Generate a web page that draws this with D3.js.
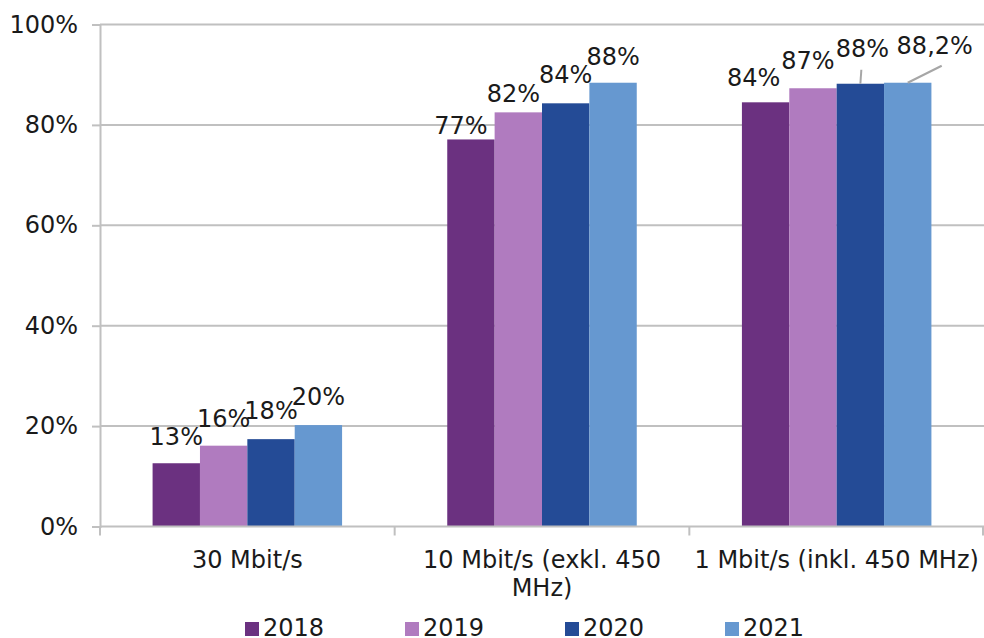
<!DOCTYPE html>
<html><head><meta charset="utf-8">
<script src="https://cdn.jsdelivr.net/npm/d3@7"></script>
<style>
body{margin:0;background:#fff;}
svg{display:block;font-family:"DejaVu Sans",sans-serif;}
</style></head>
<body><svg id="c" width="984" height="638"></svg>
<script>
const categories = ["30 Mbit/s", "10 Mbit/s (exkl. 450 MHz)", "1 Mbit/s (inkl. 450 MHz)"];
const categoryLines = [["30 Mbit/s"], ["10 Mbit/s (exkl. 450", "MHz)"], ["1 Mbit/s (inkl. 450 MHz)"]];
const series = ["2018", "2019", "2020", "2021"];
const values2018 = [12.6, 77.1, 84.5];
const values2019 = [16.1, 82.5, 87.3];
const values2020 = [17.4, 84.3, 88.2];
const values2021 = [20.2, 88.4, 88.4];
const labels2018 = ["13%", "77%", "84%"];
const labels2019 = ["16%", "82%", "87%"];
const labels2020 = ["18%", "84%", "88%"];
const labels2021 = ["20%", "88%", "88,2%"];
const yTicks = [0, 20, 40, 60, 80, 100];
const colors = ["#6b3180", "#b07bbf", "#244b96", "#6698d0"];

// manual label nudges (layout only): [series][category] -> dx, gap above bar
const labelDx = [[0, -10, -12], [0, -5, -5], [0, 0, 2], [0, 0, 27]];
const labelGap = [[18, 5, 16], [19, 10, 19], [20, 20, 27], [20, 18, 29]];
const leader = [[false,false,false],[false,false,false],[false,false,true],[false,false,true]];

const allValues = [values2018, values2019, values2020, values2021];
const allLabels = [labels2018, labels2019, labels2020, labels2021];

const svg = d3.select("#c");
const left = 100, right = 984, y0 = 526.5, y1 = 24.5;
const x = d3.scaleBand().domain(categories).range([left, right]).paddingInner(0).paddingOuter(0);
const xs = d3.scaleBand().domain(series).range([0, x.bandwidth()]).paddingInner(0).paddingOuter(1.11);
const y = d3.scaleLinear().domain([0, 100]).range([y0, y1]);
const grid = "#c0c0c0";
const txt = "#1a1a1a";
const FS = 24;

// gridlines
svg.append("g").selectAll("line").data(yTicks.filter(d => d > 0)).join("line")
  .attr("x1", left).attr("x2", right).attr("y1", d => y(d)).attr("y2", d => y(d))
  .attr("stroke", grid).attr("stroke-width", 2);

// y axis
const ya = svg.append("g").attr("transform", `translate(${left},0)`)
  .call(d3.axisLeft(y).tickValues(yTicks).tickSize(8).tickPadding(14).tickFormat(d => d + "%"));
ya.select(".domain").attr("stroke", grid).attr("stroke-width", 2);
ya.selectAll(".tick line").attr("stroke", grid).attr("stroke-width", 2);
ya.selectAll(".tick text").attr("font-size", FS).attr("fill", txt).attr("font-family", "DejaVu Sans, sans-serif");

// bars
series.forEach((s, si) => {
  svg.append("g").selectAll("rect").data(categories).join("rect")
    .attr("x", (c) => x(c) + xs(s))
    .attr("width", xs.bandwidth())
    .attr("y", (c, ci) => y(allValues[si][ci]))
    .attr("height", (c, ci) => y(0) - y(allValues[si][ci]))
    .attr("fill", colors[si]);
});

// x axis
const xa = svg.append("g").attr("transform", `translate(0,${y0})`);
xa.append("line").attr("x1", left).attr("x2", right).attr("stroke", grid).attr("stroke-width", 2);
const bounds = categories.map(c => x(c)).concat([right - 1]);
xa.selectAll(".t").data(bounds).join("line").attr("class", "t")
  .attr("x1", d => d).attr("x2", d => d).attr("y1", 0).attr("y2", 9)
  .attr("stroke", grid).attr("stroke-width", 2);

categories.forEach((c, ci) => {
  const t = svg.append("text").attr("text-anchor", "middle").attr("font-size", FS).attr("fill", txt)
    .attr("x", x(c) + x.bandwidth() / 2).attr("y", 568);
  categoryLines[ci].forEach((ln, li) => {
    t.append("tspan").attr("x", x(c) + x.bandwidth() / 2).attr("dy", li === 0 ? 0 : 28).text(ln);
  });
});

// data labels
series.forEach((s, si) => {
  categories.forEach((c, ci) => {
    const cx = x(c) + xs(s) + xs.bandwidth() / 2;
    const top = y(allValues[si][ci]);
    const lx = cx + labelDx[si][ci];
    const ly = top - labelGap[si][ci];
    if (leader[si][ci]) {
      svg.append("line").attr("x1", cx).attr("y1", top)
        .attr("x2", si === 3 ? cx + 34 : cx + 1).attr("y2", si === 3 ? top - 17 : top - 14)
        .attr("stroke", "#a6a6a6").attr("stroke-width", 2);
    }
    svg.append("text").attr("x", lx).attr("y", ly).attr("text-anchor", "middle")
      .attr("font-size", FS).attr("fill", txt).text(allLabels[si][ci]);
  });
});

// legend
const lg = svg.append("g");
const lx0 = d3.scalePoint().domain(series).range([245, 725]);
series.forEach((s, si) => {
  lg.append("rect").attr("x", lx0(s)).attr("y", 622).attr("width", 14).attr("height", 14).attr("fill", colors[si]);
  lg.append("text").attr("x", lx0(s) + 18).attr("y", 636).attr("font-size", FS).attr("fill", txt).text(s);
});
</script></body></html>
